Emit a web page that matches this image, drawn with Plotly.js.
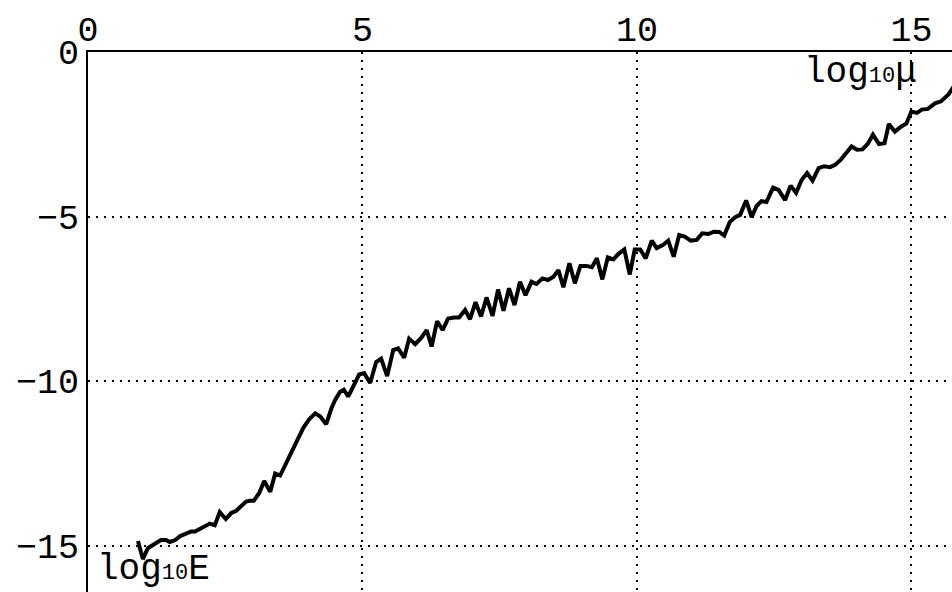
<!DOCTYPE html>
<html>
<head>
<meta charset="utf-8">
<script src="https://cdn.plot.ly/plotly-3.0.1.min.js"></script>
<style>html,body{margin:0;padding:0;background:#fff;}#chart{width:952px;height:592px;}</style>
</head>
<body>
<div id="chart"></div>
<script>
// log10(mu) values
var logMu = [0.91,1.00,1.09,1.17,1.24,1.33,1.42,1.49,1.59,1.68,1.79,1.88,1.95,2.04,2.13,2.22,2.31,2.40,2.51,2.61,
2.70,2.81,2.88,2.95,3.02,3.12,3.21,3.32,3.41,3.50,3.59,3.70,3.81,3.92,4.03,4.14,4.23,4.34,4.43,4.50,
4.59,4.66,4.74,4.83,4.94,5.03,5.14,5.25,5.34,5.45,5.56,5.65,5.76,5.85,5.96,6.07,6.17,6.26,6.36,6.46,
6.56,6.67,6.76,6.87,6.96,7.06,7.16,7.26,7.37,7.47,7.57,7.67,7.77,7.87,7.97,8.08,8.17,8.28,8.38,8.48,
8.57,8.66,8.77,8.87,8.97,9.08,9.18,9.27,9.37,9.47,9.57,9.66,9.77,9.87,9.96,10.06,10.16,10.27,10.36,10.47,
10.57,10.67,10.77,10.87,10.98,11.09,11.19,11.30,11.40,11.50,11.59,11.69,11.79,11.88,11.99,12.09,12.18,12.27,12.36,12.48,
12.58,12.70,12.80,12.90,13.00,13.10,13.20,13.31,13.41,13.52,13.61,13.71,13.81,13.91,14.01,14.11,14.21,14.30,14.41,14.51,
14.59,14.70,14.81,14.91,15.00,15.10,15.19,15.30,15.43,15.54,15.68,15.76,15.85];
// log10(E) values
var logE = [-14.86,-15.41,-15.08,-14.98,-14.92,-14.83,-14.83,-14.89,-14.83,-14.71,-14.62,-14.57,-14.57,-14.48,-14.41,-14.33,-14.38,-13.98,-14.19,-14.01,
-13.94,-13.77,-13.66,-13.64,-13.64,-13.40,-13.04,-13.36,-12.81,-12.87,-12.55,-12.16,-11.76,-11.43,-11.16,-10.98,-11.08,-11.31,-10.85,-10.58,
-10.33,-10.26,-10.47,-10.17,-9.80,-9.76,-10.06,-9.42,-9.32,-9.85,-9.06,-9.01,-9.29,-8.71,-8.88,-8.69,-8.45,-8.95,-8.18,-8.45,
-8.10,-8.07,-8.07,-7.84,-8.12,-7.60,-8.04,-7.46,-8.02,-7.22,-7.86,-7.18,-7.69,-6.98,-7.39,-6.98,-7.05,-6.88,-6.93,-6.83,
-6.63,-7.15,-6.42,-7.03,-6.50,-6.50,-6.54,-6.27,-6.91,-6.24,-6.30,-6.14,-6.00,-6.76,-6.00,-6.00,-6.27,-5.73,-5.96,-5.87,
-5.73,-6.22,-5.56,-5.61,-5.73,-5.71,-5.51,-5.53,-5.46,-5.47,-5.58,-5.17,-5.02,-4.95,-4.51,-5.02,-4.68,-4.53,-4.56,-4.12,
-4.19,-4.50,-4.06,-4.28,-3.89,-3.68,-3.91,-3.53,-3.47,-3.50,-3.43,-3.28,-3.07,-2.87,-2.97,-2.96,-2.78,-2.51,-2.80,-2.77,
-2.19,-2.42,-2.27,-2.17,-1.81,-1.85,-1.75,-1.73,-1.56,-1.50,-1.28,-1.08,-0.85];

var xTickVals = [0, 5, 10, 15];
var xTickText = ['0', '5', '10', '15'];
var yTickVals = [0, -5, -10, -15];
var yTickText = ['0', '\u22125', '\u221210', '\u221215'];

var mono = '"Liberation Mono", "Courier New", monospace';

var trace = {
  x: logMu, y: logE, type: 'scatter', mode: 'lines',
  line: {color: '#000', width: 4},
  hoverinfo: 'skip'
};

var layout = {
  width: 952, height: 592,
  margin: {l: 88, r: 0, t: 52, b: 0, pad: 0},
  paper_bgcolor: '#fff', plot_bgcolor: '#fff',
  showlegend: false,
  font: {family: mono, color: '#000', size: 35},
  xaxis: {
    side: 'top', range: [0, 15.74], autorange: false,
    tickmode: 'array', tickvals: xTickVals, ticktext: xTickText,
    showline: true, linecolor: '#000', linewidth: 2, mirror: false,
    showgrid: true, gridcolor: '#000', gridwidth: 2, griddash: '2px,6px',
    zeroline: false, ticks: '', ticklabelstandoff: -5,
    tickfont: {family: mono, size: 35, color: '#000'}
  },
  yaxis: {
    range: [-16.41, 0], autorange: false,
    tickmode: 'array', tickvals: yTickVals, ticktext: yTickText,
    showline: true, linecolor: '#000', linewidth: 2, mirror: false,
    showgrid: true, gridcolor: '#000', gridwidth: 2, griddash: '2px,6px',
    zeroline: false, ticks: '', ticklabelstandoff: 0,
    tickfont: {family: mono, size: 35, color: '#000'}
  },
  annotations: [
    {x: 13.0, y: -0.62, xref: 'x', yref: 'y', xanchor: 'left', yanchor: 'middle',
     text: 'log<span style="font-size:22px">10</span>μ', showarrow: false,
     font: {family: mono, size: 36, color: '#000'}},
    {x: 0.12, y: -15.72, xref: 'x', yref: 'y', xanchor: 'left', yanchor: 'middle',
     text: 'log<span style="font-size:22px">10</span>E', showarrow: false,
     font: {family: mono, size: 36, color: '#000'}}
  ]
};

Plotly.newPlot('chart', [trace], layout, {staticPlot: true, displayModeBar: false});
</script>
</body>
</html>
